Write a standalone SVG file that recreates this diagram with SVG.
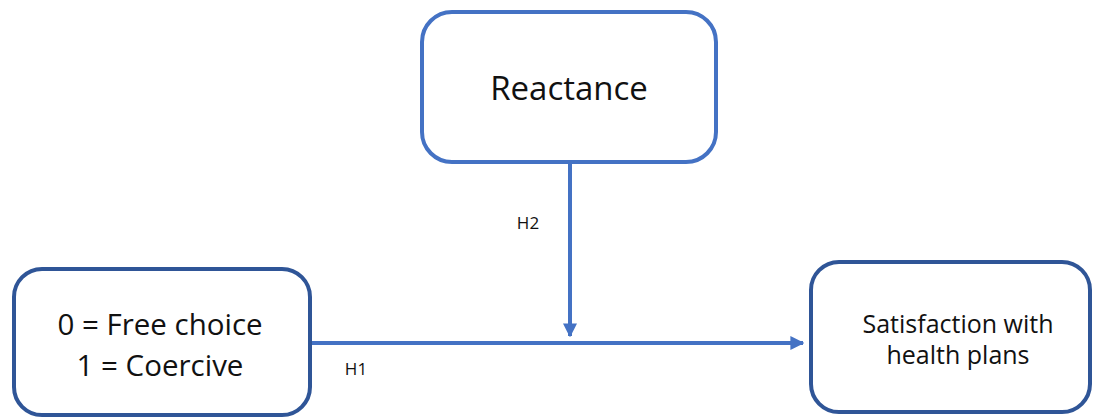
<svg xmlns="http://www.w3.org/2000/svg" width="1093" height="418" viewBox="0 0 1093 418">
  <style>
    .box { fill: #ffffff; stroke-width: 4; }
    .light { stroke: #4472C4; }
    .dark { stroke: #2F5597; }
    .label { font-family: "Open Sans", "Liberation Sans", sans-serif; fill: #111111; text-anchor: middle; }
    .link { stroke: #4472C4; stroke-width: 4; fill: none; }
  </style>
  <defs>
    <marker id="arrow" viewBox="0 0 10 10" refX="9" refY="5" markerWidth="14" markerHeight="14" markerUnits="userSpaceOnUse" orient="auto">
      <path d="M0,0 L10,5 L0,10 Z" fill="#4472C4"/>
    </marker>
  </defs>

  <g id="connectors">
    <line class="link" x1="310" y1="343" x2="803" y2="343" marker-end="url(#arrow)"/>
    <line class="link" x1="570" y1="164" x2="570" y2="336" marker-end="url(#arrow)"/>
    <text class="label" x="528" y="229" font-size="17">H2</text>
    <text class="label" x="356" y="375" font-size="17">H1</text>
  </g>

  <g id="reactance">
    <rect class="box light" x="422" y="12" width="294" height="150" rx="30"/>
    <text class="label" x="569" y="100" font-size="33">Reactance</text>
  </g>

  <g id="choice">
    <rect class="box dark" x="14" y="269" width="296" height="146" rx="28"/>
    <text class="label" x="160" y="335" font-size="29.5">0 = Free choice</text>
    <text class="label" x="160" y="376" font-size="29.5">1 = Coercive</text>
  </g>

  <g id="satisfaction">
    <rect class="box dark" x="811" y="262" width="279" height="150" rx="28"/>
    <text class="label" x="958" y="333" font-size="25">Satisfaction with</text>
    <text class="label" x="958" y="364" font-size="25">health plans</text>
  </g>
</svg>
